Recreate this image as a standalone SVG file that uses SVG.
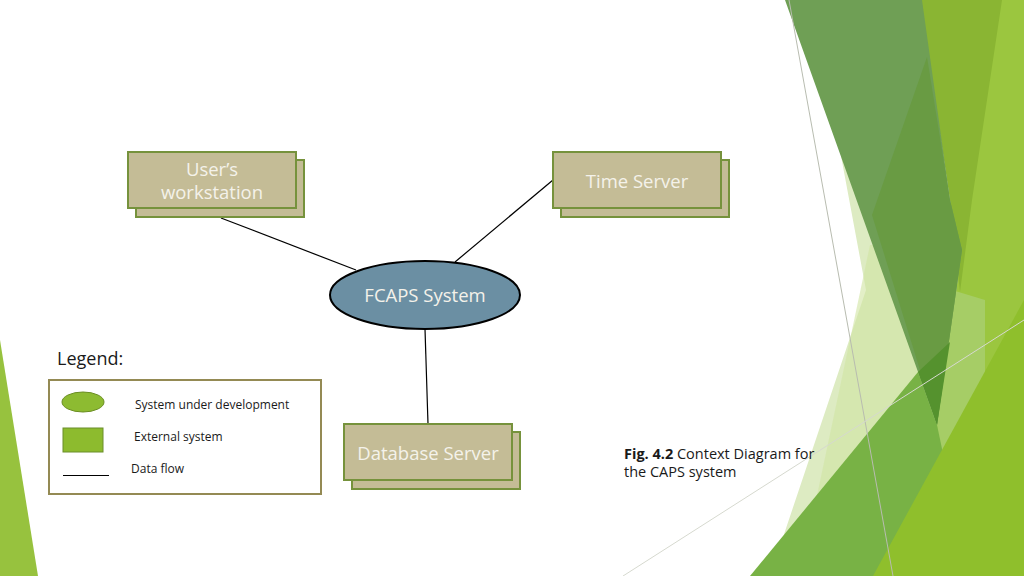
<svg xmlns="http://www.w3.org/2000/svg" width="1024" height="576" viewBox="0 0 1024 576">
<style>
.bg{stroke:none}
.ext{fill:#C4BC96;stroke:#76923C;stroke-width:2}
.lbl{font-family:"Open Sans","DejaVu Sans",sans-serif;fill:#F4F2EA;font-size:18.5px;text-anchor:middle}
.lg{font-family:"Open Sans","DejaVu Sans",sans-serif;fill:#1a1a1a;font-size:12px}
.cap{font-family:"Open Sans","DejaVu Sans",sans-serif;fill:#1a1a1a;font-size:14.5px}
.conn line{stroke:#000;stroke-width:1.2}
</style>
<rect width="1024" height="576" fill="#FFFFFF"/>
<g id="background">
<polygon class="bg" points="0,340 0,576 38,576" fill="#97C23E"/>
<polygon class="bg" points="812,0 866,290 770,576 1024,576 1024,0" fill="#DDEBC2"/>
<polygon class="bg" points="870,245 800,576 1024,576 1024,245" fill="#D0E4A2" opacity="0.6"/>
<polygon class="bg" points="985,0 1024,0 1024,576 900,576 937,425 962,250" fill="#9BC63F"/>
<polygon class="bg" points="952,290 985,300 985,380 940,470 937,425" fill="#A6CD66"/>
<polygon class="bg" points="920,0 1002,0 972,200 960,292 950,200" fill="#8AB533"/>
<polygon class="bg" points="785,0 922,0 950,200 962,250 937,425" fill="#6F9F55"/>
<polygon class="bg" points="927,57 872,215 937,425 962,250 950,200" fill="#699B43"/>
<polygon class="bg" points="750,576 918,372 937,425 945,463 882,576" fill="#78B245"/>
<polygon class="bg" points="918,372 950,342 937,425" fill="#55922E"/>
<polygon class="bg" points="873,576 1024,300 1024,576" fill="#8FBF2C"/>
<line x1="789" y1="0" x2="893" y2="576" stroke="#B8BCB0" stroke-width="1"/>
<line x1="623" y1="576" x2="1024" y2="320" stroke="#D6D9CF" stroke-width="1"/>
</g>
<g class="conn" id="connectors">
<line x1="221" y1="218" x2="356" y2="270"/>
<line x1="553" y1="180" x2="455" y2="262"/>
<line x1="425" y1="329" x2="428" y2="424"/>
</g>
<g id="users-workstation">
<rect class="ext" x="136" y="160" width="168" height="57"/>
<rect class="ext" x="128" y="152" width="168" height="56"/>
<text class="lbl" x="212" y="176">User’s</text>
<text class="lbl" x="212" y="199">workstation</text>
</g>
<g id="time-server">
<rect class="ext" x="561" y="160" width="168" height="57"/>
<rect class="ext" x="553" y="152" width="168" height="56"/>
<text class="lbl" x="637" y="188">Time Server</text>
</g>
<g id="fcaps-system">
<ellipse cx="425" cy="295" rx="95" ry="34" fill="#6B8FA3" stroke="#000" stroke-width="2"/>
<text class="lbl" x="425" y="302">FCAPS System</text>
</g>
<g id="database-server">
<rect class="ext" x="352" y="432" width="168" height="57"/>
<rect class="ext" x="344" y="424" width="168" height="56"/>
<text class="lbl" x="428" y="460">Database Server</text>
</g>
<g id="legend">
<text x="57" y="365" font-family="'Open Sans','DejaVu Sans',sans-serif" font-size="18" fill="#1a1a1a">Legend:</text>
<rect x="49" y="380" width="272" height="114" fill="#FFFFFF" stroke="#948A54" stroke-width="2"/>
<ellipse cx="83" cy="402" rx="21" ry="10" fill="#8DBB31" stroke="#6B8E23" stroke-width="1"/>
<rect x="63" y="428" width="40" height="24" fill="#8DBB2E" stroke="#6B8E2A" stroke-width="1"/>
<line x1="63" y1="475.5" x2="109" y2="475.5" stroke="#000" stroke-width="1"/>
<text class="lg" x="135" y="409">System under development</text>
<text class="lg" x="134" y="441">External system</text>
<text class="lg" x="131" y="473">Data flow</text>
</g>
<g id="caption">
<text class="cap" x="624" y="459"><tspan font-weight="bold">Fig. 4.2</tspan> Context Diagram for</text>
<text class="cap" x="624" y="477">the CAPS system</text>
</g>
</svg>
